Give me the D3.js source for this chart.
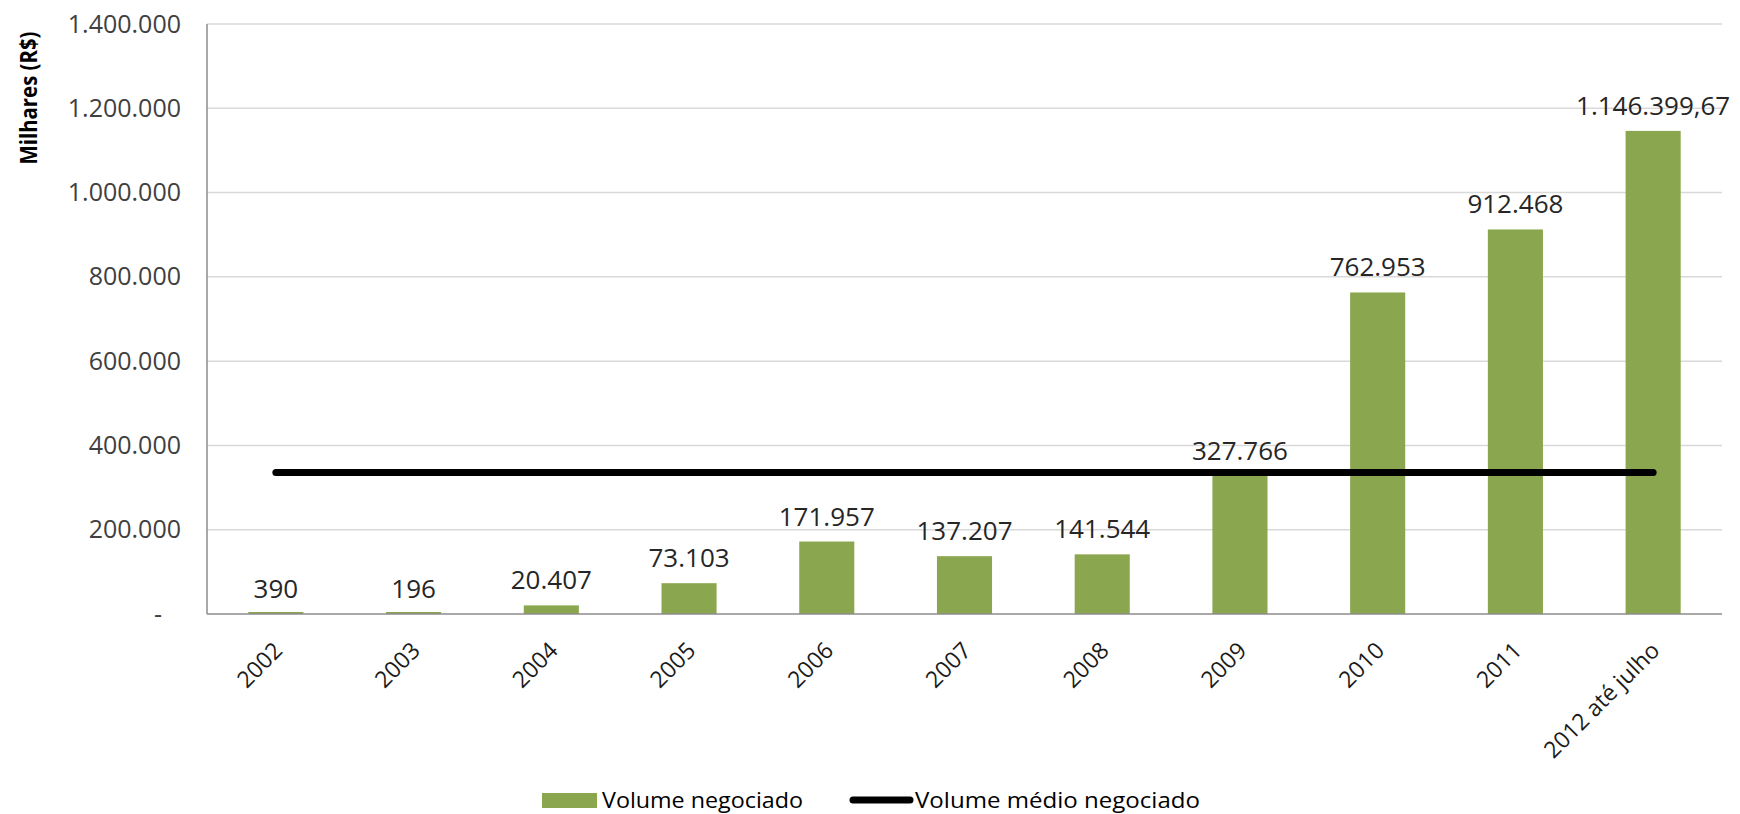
<!DOCTYPE html>
<html>
<head>
<meta charset="utf-8">
<script src="https://cdn.jsdelivr.net/npm/d3@7.9.0/dist/d3.min.js"></script>
<style>
  body { margin: 0; background: #fff; }
  svg { display: block; font-family: 'Open Sans', sans-serif; }
</style>
</head>
<body>
<svg id="chart" width="1740" height="814"></svg>
<script>
const categories = ['2002', '2003', '2004', '2005', '2006', '2007', '2008', '2009', '2010', '2011', '2012 até julho'];
const volumes = [390, 196, 20407, 73103, 171957, 137207, 141544, 327766, 762953, 912468, 1146399.67];
const valueLabels = ['390', '196', '20.407', '73.103', '171.957', '137.207', '141.544', '327.766', '762.953', '912.468', '1.146.399,67'];
const averageVolume = 335854;
const yTicks = [0, 200000, 400000, 600000, 800000, 1000000, 1200000, 1400000];
const yTickLabels = ['-', '200.000', '400.000', '600.000', '800.000', '1.000.000', '1.200.000', '1.400.000'];

const width = 1740;
const margin = { top: 24, right: 18, bottom: 200, left: 207 };
const baseY = 814 - margin.bottom;

const svg = d3.select('#chart');

const x = d3.scaleBand()
  .domain(categories)
  .range([margin.left, width - margin.right])
  .paddingInner(0.6)
  .paddingOuter(0.3);

const y = d3.scaleLinear()
  .domain([0, 1400000])
  .range([baseY, margin.top]);

// gridlines
svg.append('g')
  .selectAll('line')
  .data(yTicks.filter((d) => d > 0))
  .join('line')
  .attr('x1', margin.left)
  .attr('x2', width - margin.right)
  .attr('y1', (d) => y(d))
  .attr('y2', (d) => y(d))
  .attr('stroke', '#d9d9d9')
  .attr('stroke-width', 1.5);

// y axis labels
const yAxis = svg.append('g')
  .attr('transform', `translate(${margin.left},0)`)
  .call(d3.axisLeft(y)
    .tickValues(yTicks)
    .tickSize(0)
    .tickPadding(26)
    .tickFormat((d, i) => yTickLabels[i]));
yAxis.select('.domain').remove();
yAxis.selectAll('text')
  .attr('font-size', 25)
  .attr('font-family', 'Open Sans, sans-serif')
  .attr('fill', '#404040')
  .attr('dx', (d) => (d === 0 ? -19 : 0));

// left axis line
svg.append('line')
  .attr('x1', margin.left).attr('x2', margin.left)
  .attr('y1', margin.top).attr('y2', baseY)
  .attr('stroke', '#8c8c8c').attr('stroke-width', 1.5);

// bars (tiny values keep a hairline so they stay visible)
svg.append('g')
  .selectAll('rect')
  .data(volumes)
  .join('rect')
  .attr('x', (d, i) => x(categories[i]))
  .attr('y', (d) => Math.min(y(d), baseY - 2))
  .attr('width', x.bandwidth())
  .attr('height', (d) => Math.max(baseY - y(d), 2))
  .attr('fill', '#8aa64e');

svg.append('line')
  .attr('x1', margin.left).attr('x2', width - margin.right)
  .attr('y1', baseY).attr('y2', baseY)
  .attr('stroke', '#8c8c8c').attr('stroke-width', 1.5);

// average line
const avgLine = d3.line()
  .x((d) => x(d) + x.bandwidth() / 2)
  .y(() => y(averageVolume));
svg.append('path')
  .datum(categories)
  .attr('d', avgLine)
  .attr('fill', 'none')
  .attr('stroke', '#000')
  .attr('stroke-width', 7)
  .attr('stroke-linecap', 'round');

// data labels
svg.append('g')
  .selectAll('text')
  .data(volumes)
  .join('text')
  .attr('x', (d, i) => x(categories[i]) + x.bandwidth() / 2)
  .attr('y', (d) => y(d) - 16)
  .attr('text-anchor', 'middle')
  .attr('font-size', 26)
  .attr('fill', '#262626')
  .text((d, i) => valueLabels[i]);

// x labels
svg.append('g')
  .selectAll('text')
  .data(categories)
  .join('text')
  .attr('transform', (d) => `translate(${x(d) + x.bandwidth() / 2 + 8},${baseY + 38}) rotate(-45)`)
  .attr('text-anchor', 'end')
  .attr('font-size', 23)
  .attr('fill', '#1a1a1a')
  .text((d) => d);

// y title
svg.append('text')
  .attr('transform', 'translate(37,98) rotate(-90)')
  .attr('text-anchor', 'middle')
  .attr('font-size', 24)
  .attr('font-weight', 'bold')
  .attr('fill', '#000')
  .attr('textLength', 133)
  .attr('lengthAdjust', 'spacingAndGlyphs')
  .text('Milhares (R$)');

// legend
const legend = svg.append('g');
legend.append('rect')
  .attr('x', 542).attr('y', 793)
  .attr('width', 55).attr('height', 15)
  .attr('fill', '#8aa64e');
legend.append('text')
  .attr('x', 602).attr('y', 808)
  .attr('font-size', 21)
  .attr('fill', '#000')
  .attr('textLength', 201)
  .attr('lengthAdjust', 'spacingAndGlyphs')
  .text('Volume negociado');
legend.append('line')
  .attr('x1', 853).attr('x2', 910)
  .attr('y1', 800).attr('y2', 800)
  .attr('stroke', '#000')
  .attr('stroke-width', 7)
  .attr('stroke-linecap', 'round');
legend.append('text')
  .attr('x', 915).attr('y', 808)
  .attr('font-size', 21)
  .attr('fill', '#000')
  .attr('textLength', 285)
  .attr('lengthAdjust', 'spacingAndGlyphs')
  .text('Volume médio negociado');
</script>
</body>
</html>
